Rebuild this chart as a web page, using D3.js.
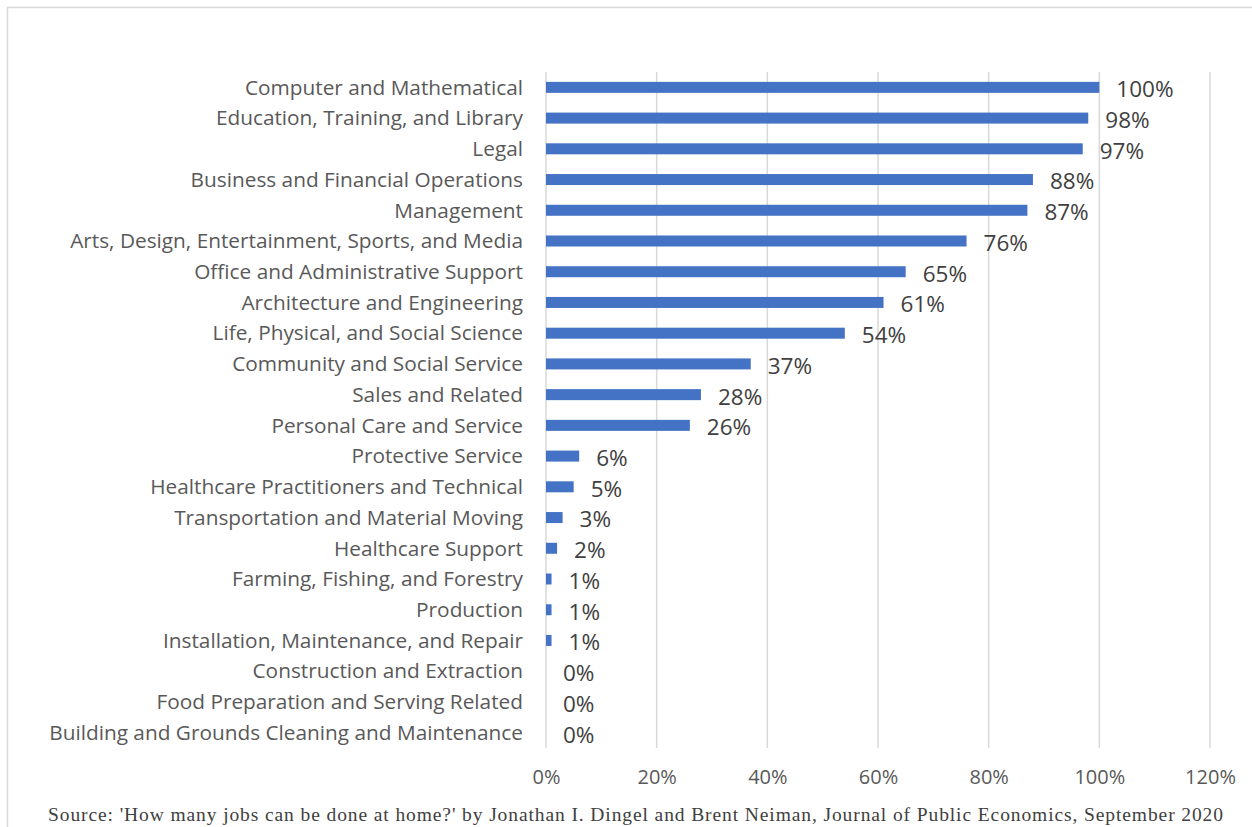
<!DOCTYPE html>
<html>
<head>
<meta charset="utf-8">
<script src="https://cdn.jsdelivr.net/npm/d3@7"></script>
<style>
  html, body { margin: 0; padding: 0; background: #fff; }
  svg { display: block; }
</style>
</head>
<body>
<svg id="chart" width="1252" height="827"></svg>
<script>
// Share of jobs that can be done at home, by occupation group
const categories = [
  "Computer and Mathematical",
  "Education, Training, and Library",
  "Legal",
  "Business and Financial Operations",
  "Management",
  "Arts, Design, Entertainment, Sports, and Media",
  "Office and Administrative Support",
  "Architecture and Engineering",
  "Life, Physical, and Social Science",
  "Community and Social Service",
  "Sales and Related",
  "Personal Care and Service",
  "Protective Service",
  "Healthcare Practitioners and Technical",
  "Transportation and Material Moving",
  "Healthcare Support",
  "Farming, Fishing, and Forestry",
  "Production",
  "Installation, Maintenance, and Repair",
  "Construction and Extraction",
  "Food Preparation and Serving Related",
  "Building and Grounds Cleaning and Maintenance"
];
const values = [1.00, 0.98, 0.97, 0.88, 0.87, 0.76, 0.65, 0.61, 0.54, 0.37, 0.28, 0.26,
                0.06, 0.05, 0.03, 0.02, 0.01, 0.01, 0.01, 0.00, 0.00, 0.00];
const tickValues = [0, 0.2, 0.4, 0.6, 0.8, 1.0, 1.2];
const sourceText = "Source: 'How many jobs can be done at home?' by Jonathan I. Dingel and Brent Neiman, Journal of Public Economics, September 2020";

const svg = d3.select("#chart");
const sansFont = "'Open Sans', 'Noto Sans', sans-serif";

// outer frame
svg.append("rect")
  .attr("x", 7.5).attr("y", 7.5)
  .attr("width", 1260).attr("height", 900)
  .attr("fill", "none").attr("stroke", "#d9d9d9").attr("stroke-width", 1.5);

const x = d3.scaleLinear().domain([0, 1.2]).range([546, 1210]);
const y = d3.scaleBand().domain(categories).range([72, 748]).paddingInner(0).paddingOuter(0);
const barH = 11;

// vertical gridlines
svg.append("g").selectAll("line")
  .data(tickValues)
  .join("line")
  .attr("x1", d => x(d)).attr("x2", d => x(d))
  .attr("y1", 72).attr("y2", 748)
  .attr("stroke", "#d9d9d9").attr("stroke-width", 1.5);

// bars
svg.append("g").selectAll("rect")
  .data(values)
  .join("rect")
  .attr("x", x(0))
  .attr("y", (d, i) => y(categories[i]) + y.bandwidth() / 2 - barH / 2)
  .attr("width", d => x(d) - x(0))
  .attr("height", barH)
  .attr("fill", "#4472c4");

// category labels
svg.append("g").selectAll("text")
  .data(categories)
  .join("text")
  .attr("x", 523)
  .attr("y", d => y(d) + y.bandwidth() / 2)
  .attr("dy", "0.35em")
  .attr("text-anchor", "end")
  .attr("font-family", sansFont)
  .attr("font-size", 20.8)
  .attr("fill", "#595959")
  .text(d => d);

// value labels
svg.append("g").selectAll("text")
  .data(values)
  .join("text")
  .attr("x", d => x(d) + 17)
  .attr("y", (d, i) => y(categories[i]) + y.bandwidth() / 2 + 2)
  .attr("dy", "0.35em")
  .attr("font-family", sansFont)
  .attr("font-size", 22.5)
  .attr("fill", "#404040")
  .text(d => d3.format(".0%")(d));

// x axis tick labels
const xAxis = d3.axisBottom(x).tickValues(tickValues).tickFormat(d3.format(".0%")).tickSize(0).tickPadding(0);
const axisG = svg.append("g").attr("transform", "translate(0,770)").call(xAxis);
axisG.select(".domain").remove();
axisG.selectAll("text")
  .attr("font-family", sansFont)
  .attr("font-size", 20)
  .attr("fill", "#595959");

// source note
svg.append("text")
  .attr("x", 48).attr("y", 821)
  .attr("font-family", "'Liberation Serif', 'Times New Roman', serif")
  .attr("font-size", 19.5)
  .attr("fill", "#404040")
  .attr("textLength", 1175)
  .attr("lengthAdjust", "spacing")
  .text(sourceText);
</script>
</body>
</html>
